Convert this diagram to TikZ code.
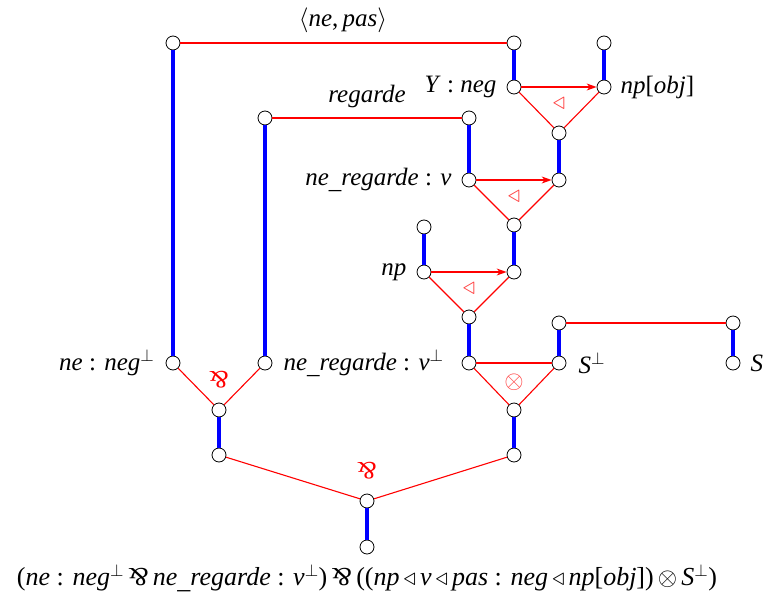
\documentclass[tikz,border=0pt]{standalone}
\usepackage{fontspec}
\setmainfont{Liberation Serif}
\usepackage{graphicx}
\usetikzlibrary{arrows.meta}
\newcommand{\myparr}{\rotatebox[origin=c]{180}{\&}}
\newcommand{\us}{\raisebox{-0.1em}{\_}}
\begin{document}
\begin{tikzpicture}[x=1pt,y=-1pt,font=\fontsize{25}{29}\selectfont,
  pt/.style={circle,draw=black,fill=white,line width=0.8pt,minimum size=14pt,inner sep=0pt},
  ax/.style={blue,line width=3.5pt},
  lnk/.style={draw=red,line width=1.1pt},
  arr/.style={lnk,-{Stealth[length=10pt,width=7pt]}},
  sym/.style={red!75,inner sep=0pt},
  lbl/.style={inner sep=0pt}]
\useasboundingbox (0,0) rectangle (767,599);
% circles
\node[pt] (a1) at (173,43) {};
\node[pt] (a2) at (514,43) {};
\node[pt] (b1) at (604,43) {};
\node[pt] (y) at (514,87) {};
\node[pt] (obj) at (604,87) {};
\node[pt] (t1) at (559,133) {};
\node[pt] (r1) at (265,118) {};
\node[pt] (r2) at (469,118) {};
\node[pt] (v) at (469,180) {};
\node[pt] (t1b) at (559,180) {};
\node[pt] (t2) at (514,225) {};
\node[pt] (n1) at (424,227) {};
\node[pt] (np) at (424,272) {};
\node[pt] (t2b) at (514,272) {};
\node[pt] (t3) at (469,317) {};
\node[pt] (s1) at (559,323) {};
\node[pt] (s2) at (733,323) {};
\node[pt] (neg) at (173,363) {};
\node[pt] (vp) at (265,363) {};
\node[pt] (t3b) at (469,363) {};
\node[pt] (sp) at (559,363) {};
\node[pt] (s) at (733,363) {};
\node[pt] (p1) at (219,410) {};
\node[pt] (ot) at (514,410) {};
\node[pt] (p1b) at (219,455) {};
\node[pt] (otb) at (514,455) {};
\node[pt] (p2) at (367,501) {};
\node[pt] (root) at (367,547) {};
% axes (blue)
\draw[ax] (a1) -- (neg);
\draw[ax] (r1) -- (vp);
\draw[ax] (a2) -- (y);
\draw[ax] (b1) -- (obj);
\draw[ax] (r2) -- (v);
\draw[ax] (t1) -- (t1b);
\draw[ax] (t2) -- (t2b);
\draw[ax] (n1) -- (np);
\draw[ax] (t3) -- (t3b);
\draw[ax] (s1) -- (sp);
\draw[ax] (s2) -- (s);
\draw[ax] (p1) -- (p1b);
\draw[ax] (ot) -- (otb);
\draw[ax] (p2) -- (root);
% links (red)
\draw[lnk] (a1) -- (a2);
\draw[lnk] (r1) -- (r2);
\draw[lnk] (s1) -- (s2);
\draw[arr] (y) -- (obj);
\draw[lnk] (y) -- (t1);
\draw[lnk] (obj) -- (t1);
\draw[arr] (v) -- (t1b);
\draw[lnk] (v) -- (t2);
\draw[lnk] (t1b) -- (t2);
\draw[arr] (np) -- (t2b);
\draw[lnk] (np) -- (t3);
\draw[lnk] (t2b) -- (t3);
\draw[lnk] (t3b) -- (sp);
\draw[lnk] (t3b) -- (ot);
\draw[lnk] (sp) -- (ot);
\draw[lnk] (neg) -- (p1);
\draw[lnk] (vp) -- (p1);
\draw[lnk] (p1b) -- (p2);
\draw[lnk] (otb) -- (p2);
% connective symbols
\node[sym] (c1) at (559,104) {$\triangleleft$};
\node[sym] (c2) at (514,197) {$\triangleleft$};
\node[sym] (c3) at (469,289) {$\triangleleft$};
\node[sym] (c4) at (514,382) {$\otimes$};
\node[sym,text=red] (c5) at (219,380) {\myparr};
\node[sym,text=red] (c6) at (367,471) {\myparr};
% labels
\node[lbl] (lnp) at (343,20) {$\langle$\textit{ne},\,\textit{pas}$\rangle$};
\node[lbl] (lreg) at (367,96) {\textit{regarde}};
\node[lbl,anchor=east] (ly) at ([xshift=-10pt]y.west) {\textit{Y} : \textit{neg}};
\node[lbl,anchor=west] (lobj) at ([xshift=9pt]obj.east) {\textit{np}[\textit{obj}]};
\node[lbl,anchor=east] (lv) at ([xshift=-10pt]v.west) {\textit{ne\us regarde} : \textit{v}};
\node[lbl,anchor=east] (lnp2) at ([xshift=-10pt]np.west) {\textit{np}};
\node[lbl,anchor=east] (lneg) at ([xshift=-11pt]neg.west) {\textit{ne} : \textit{neg}$^{\perp}$};
\node[lbl,anchor=west] (lvp) at ([xshift=11pt]vp.east) {\textit{ne\us regarde} : \textit{v}$^{\perp}$};
\node[lbl,anchor=west] (lsp) at ([xshift=12pt]sp.east) {\textit{S}$^{\perp}$};
\node[lbl,anchor=west] (ls) at ([xshift=10pt]s.east) {\textit{S}};
\node[lbl,font=\fontsize{26}{30}\selectfont] (formula) at (367,578) {(\textit{ne} : \textit{neg}$^{\perp}$\,\myparr\,\textit{ne\us regarde} : \textit{v}$^{\perp}$)\,\myparr\,((\textit{np}$\,\triangleleft\,$\textit{v}$\,\triangleleft\,$\textit{pas} : \textit{neg}$\,\triangleleft\,$\textit{np}[\textit{obj}])$\,\otimes\,$\textit{S}$^{\perp}$)};
\end{tikzpicture}
\end{document}
